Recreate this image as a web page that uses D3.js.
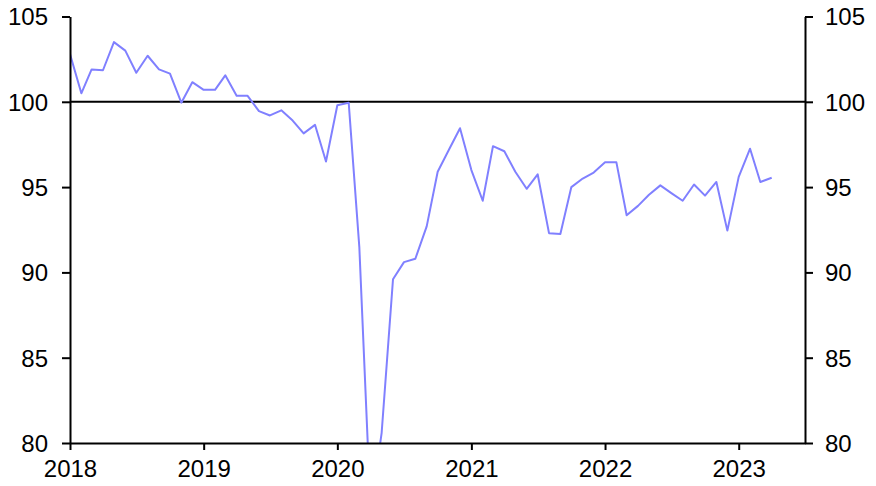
<!DOCTYPE html>
<html>
<head>
<meta charset="utf-8">
<script src="https://cdnjs.cloudflare.com/ajax/libs/d3/7.8.5/d3.min.js"></script>
<style>
    body { margin: 0; background: #fff; }
    svg { display: block; font-family: "Liberation Sans", Arial, sans-serif; }
    .axis text { font-size: 24px; fill: #000; }
    .axis path, .axis line { stroke: #000; stroke-width: 2; }
</style>
</head>
<body>
<div id="chart"></div>
<script>
// monthly index values, Jan 2018 .. Apr 2023
const startMonth = new Date(2018, 0, 1);
const values = [
    102.8, 100.5, 101.9, 101.85, 103.5, 103.0, 101.7, 102.7, 101.9, 101.65, 99.95, 101.15,
    100.7, 100.7, 101.55, 100.35, 100.35, 99.45, 99.2, 99.5, 98.9, 98.15, 98.65, 96.5,
    99.8, 99.95, 91.5, 76.0, 80.6, 89.6, 90.6, 90.8, 92.7, 95.9, 97.2, 98.45,
    96.0, 94.2, 97.4, 97.1, 95.9, 94.9, 95.75, 92.3, 92.25, 95.0, 95.5, 95.85,
    96.45, 96.45, 93.35, 93.9, 94.55, 95.1, 94.65, 94.2, 95.15, 94.5, 95.3, 92.45,
    95.6, 97.25, 95.3, 95.55
];
const yTicks = [80, 85, 90, 95, 100, 105];
const xTickYears = [2018, 2019, 2020, 2021, 2022, 2023];
const referenceLevel = 100;

const data = values.map((v, i) => ({ date: d3.timeMonth.offset(startMonth, i), value: v }));

const width = 876, height = 486;
const margin = { top: 16.5, right: 71, bottom: 43, left: 70 };

const svg = d3.select("#chart").append("svg")
    .attr("width", width)
    .attr("height", height);

const x = d3.scaleTime()
    .domain([new Date(2018, 0, 1), new Date(2023, 6, 1)])
    .range([margin.left, width - margin.right]);

const y = d3.scaleLinear()
    .domain([80, 105])
    .range([height - margin.bottom, margin.top]);

svg.append("clipPath")
    .attr("id", "plot-clip")
    .append("rect")
    .attr("x", margin.left)
    .attr("y", margin.top)
    .attr("width", width - margin.right - margin.left)
    .attr("height", height - margin.bottom - margin.top);

// reference line at 100
svg.append("line")
    .attr("x1", margin.left)
    .attr("x2", width - margin.right)
    .attr("y1", y(referenceLevel))
    .attr("y2", y(referenceLevel))
    .attr("stroke", "#000")
    .attr("stroke-width", 2);

svg.append("path")
    .datum(data)
    .attr("clip-path", "url(#plot-clip)")
    .attr("fill", "none")
    .attr("stroke", "#8080ff")
    .attr("stroke-width", 2)
    .attr("stroke-linejoin", "round")
    .attr("d", d3.line()
        .x(d => x(d.date))
        .y(d => y(d.value)));

// left axis
svg.append("g")
    .attr("class", "axis")
    .attr("transform", `translate(${margin.left},0)`)
    .call(d3.axisLeft(y).tickValues(yTicks).tickSizeInner(8).tickSizeOuter(0).tickPadding(14))
    .call(g => g.selectAll("text").attr("dy", "0.35em"));

// right axis
svg.append("g")
    .attr("class", "axis")
    .attr("transform", `translate(${width - margin.right},0)`)
    .call(d3.axisRight(y).tickValues(yTicks).tickSizeInner(8).tickSizeOuter(0).tickPadding(12))
    .call(g => g.selectAll("text").attr("dy", "0.35em"));

// bottom axis
svg.append("g")
    .attr("class", "axis")
    .attr("transform", `translate(0,${height - margin.bottom})`)
    .call(d3.axisBottom(x)
        .tickValues(xTickYears.map(yr => new Date(yr, 0, 1)))
        .tickFormat(d3.timeFormat("%Y"))
        .tickSizeInner(7).tickSizeOuter(0).tickPadding(10));
</script>
</body>
</html>
